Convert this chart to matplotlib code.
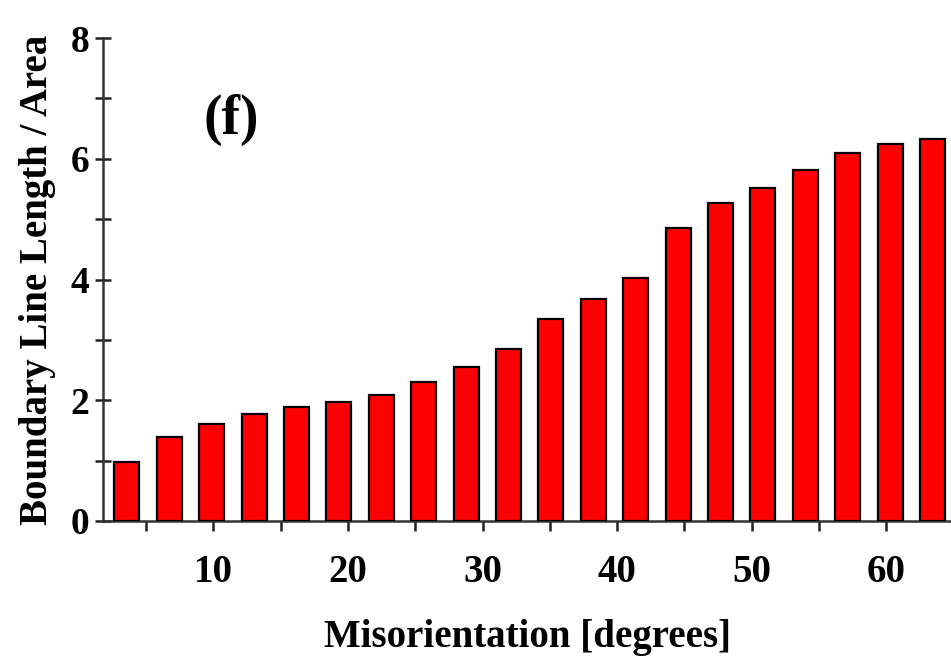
import matplotlib
matplotlib.use("Agg")
import matplotlib.pyplot as plt
from matplotlib.ticker import MultipleLocator

# Data: bin centres (degrees) and boundary length per area
misorientation = [3.575, 6.725, 9.875, 13.025, 16.175, 19.325, 22.475, 25.625,
                  28.775, 31.925, 35.075, 38.225, 41.375, 44.525, 47.675,
                  50.825, 53.975, 57.125, 60.275, 63.425]
length_per_area = [0.98, 1.39, 1.60, 1.77, 1.88, 1.97, 2.09, 2.30,
                   2.55, 2.85, 3.34, 3.68, 4.02, 4.86, 5.26,
                   5.52, 5.81, 6.10, 6.24, 6.32]
xtick_labels = [10, 20, 30, 40, 50, 60]
ytick_labels = [0, 2, 4, 6, 8]

plt.rcParams['font.family'] = ['Liberation Serif', 'DejaVu Serif']
plt.rcParams['font.weight'] = 'bold'

fig = plt.figure(figsize=(9.51, 6.62), dpi=100)
ax = fig.add_axes([103/951, 1-521/662, (951-103)/951, (521-38)/662])

ax.bar(misorientation, length_per_area, width=1.86, color='#ff0000',
       edgecolor='black', linewidth=1.6, zorder=3)

ax.set_xlim(1.8, 64.8)
ax.set_ylim(0, 8)

ax.spines['top'].set_visible(False)
ax.spines['right'].set_visible(False)
for s in ('left', 'bottom'):
    ax.spines[s].set_color('#333333')
    ax.spines[s].set_linewidth(1.8)

ax.set_xticks(xtick_labels)
ax.set_xticklabels([str(v) for v in xtick_labels])
ax.xaxis.set_minor_locator(MultipleLocator(5))
ax.set_yticks(ytick_labels)
ax.set_yticklabels([str(v) for v in ytick_labels])
ax.yaxis.set_minor_locator(MultipleLocator(1))

ax.tick_params(axis='x', which='both', direction='out', length=7, width=1.8,
               color='#222222', labelsize=28, pad=17)
ax.tick_params(axis='y', which='both', direction='inout', length=12, width=1.8,
               color='#222222', labelsize=27, pad=4)
for lab in ax.get_xticklabels() + ax.get_yticklabels():
    lab.set_fontweight('bold')

ax.set_xlabel('Misorientation [degrees]', fontsize=28, fontweight='bold', labelpad=20)
ax.set_ylabel('Boundary Line Length / Area', fontsize=28, fontweight='bold', labelpad=10)

ax.text(0.151, 0.830, '(f)', transform=ax.transAxes, fontsize=40,
        fontweight='bold', ha='center', va='center')

fig.savefig('out.png', dpi=100)
